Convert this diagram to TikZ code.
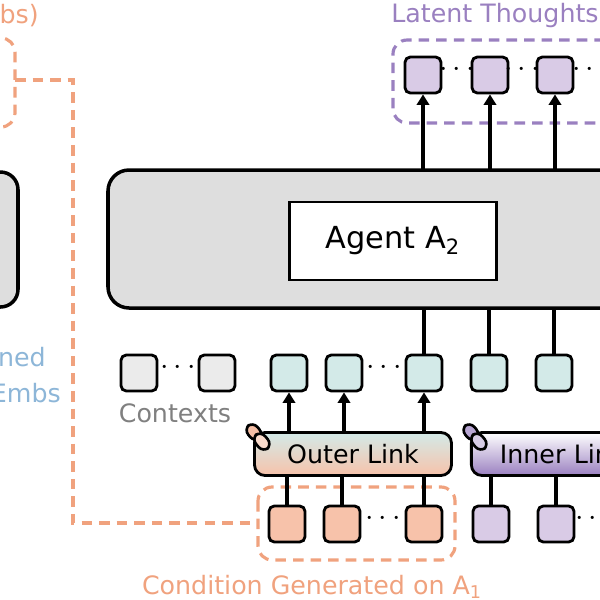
\documentclass[tikz,border=0pt]{standalone}
\usepackage{fontspec}
\setmainfont{DejaVu Sans}
\usetikzlibrary{arrows.meta}
\definecolor{ora}{HTML}{F0A27E}
\definecolor{pur}{HTML}{9A80C0}
\definecolor{tealf}{HTML}{D3EAE8}
\definecolor{orf}{HTML}{F7C2AA}
\definecolor{purf}{HTML}{D9CBE6}
\definecolor{greyf}{HTML}{DEDEDE}
\definecolor{bluet}{HTML}{8DB6D8}
\begin{document}
\begin{tikzpicture}[x=0.02cm,y=-0.02cm,
    sq/.style={draw=black, line width=1.6pt, rounded corners=3pt, minimum size=0.72cm, inner sep=0pt},
    arrow/.style={line width=1.8pt,-{Triangle[length=6pt,width=7pt]}},
    link/.style={line width=1.5pt, rounded corners=4pt},
    dashline/.style={dash pattern=on 6pt off 4pt, line width=1.8pt},
    dots/.style={font=\LARGE\bfseries, inner sep=0pt}]
    \useasboundingbox (0,0) rectangle (600,600);
    \clip (0,0) rectangle (600,600);

    % left part (cut off)
    \node[text=ora, font=\Large, anchor=east] (prev) at (45,16) {mbs)};
    \draw[ora, dashline, rounded corners=8pt] (-30,38) -- (15,38) -- (15,127) -- (-30,127);
    \draw[line width=2pt, fill=greyf, rounded corners=10pt] (-40,172) rectangle (18,307);
    \node[text=bluet, font=\Large, anchor=east] at (52,360) {gned};
    \node[text=bluet, font=\Large, anchor=east] at (67,393) {Embs};
    \coordinate (cond) at (15,80);

    % agent
    \draw[line width=2pt, fill=greyf, rounded corners=12pt] (108,170) rectangle (640,308);
    \node[draw=black, line width=1.6pt, fill=white, minimum width=4.14cm, minimum height=1.56cm, font=\LARGE] (agent) at (393,241) {Agent A\textsubscript{2}};

    % latent thoughts
    \node[text=pur, font=\Large] at (495,16) {Latent Thoughts};
    \draw[pur, dashline, rounded corners=8pt] (640,40) -- (393,40) -- (393,123) -- (640,123);
    \foreach \x/\n in {423/l1,490/l2,555/l3} {
        \node[sq, fill=purf] (\n) at (\x,75) {};
        \draw[arrow] (\x,170) -- (\n);
    }
    \node[dots] at (457,70) {$\cdots$};
    \node[dots] at (522,70) {$\cdots$};
    \node[dots] at (590,70) {$\cdots$};

    % contexts
    \node[sq, fill=greyf!60] (c1) at (139,373) {};
    \node[sq, fill=greyf!60] (c2) at (217,373) {};
    \node[dots] at (178,368) {$\cdots$};
    \node[text=gray, font=\Large] at (175,413) {Contexts};

    % hidden states
    \foreach \x/\n in {289/h1,344/h2,424/h3,489/h4,554/h5} \node[sq, fill=tealf] (\n) at (\x,373) {};
    \node[dots] at (384,368) {$\cdots$};
    \foreach \n/\x in {h3/424,h4/489,h5/554} \draw[line width=1.8pt] (\x,308) -- (\n);

    % links
    \node[draw=black, line width=1.6pt, rounded corners=6pt, top color=tealf, bottom color=orf, minimum width=3.94cm, minimum height=0.86cm, font=\Large] (outer) at (353,454) {Outer Link};
    \node[draw=black, line width=1.6pt, rounded corners=6pt, top color=white, bottom color=pur, minimum width=3.94cm, minimum height=0.86cm, font=\Large, anchor=west, text width=3.5cm] (inner) at (470,454) {\hspace{0.35cm}Inner Link};
    \foreach \x/\n in {289/h1,344/h2,424/h3} \draw[arrow] (\x,432) -- (\n);
    \foreach \x/\c in {258/ora,475/pur} {
        \draw[link, fill=\c!70, rotate around={-50:(\x,437)}] ({\x-15},431) rectangle ({\x+2},443);
        \draw[link, fill=\c!40, rotate around={-50:(\x,437)}] ({\x-3},431) rectangle ({\x+15},443);
    }

    % conditions
    \draw[ora, dashline, rounded corners=8pt] (258,487) rectangle (455,560);
    \foreach \x/\n in {287/o1,342/o2,424/o3} {
        \node[sq, fill=orf] (\n) at (\x,524) {};
        \draw[line width=1.8pt] (\n) -- (\x,475);
    }
    \node[dots] at (383,519) {$\cdots$};
    \foreach \x/\n in {491/p1,556/p2} {
        \node[sq, fill=purf] (\n) at (\x,524) {};
        \draw[line width=1.8pt] (\n) -- (\x,475);
    }
    \node[dots] at (593,519) {$\cdots$};
    \node[text=ora, font=\Large] at (312,587) {Condition Generated on A\textsubscript{1}};

    % condition connector
    \draw[ora, dashline] (cond) -- (73,80) -- (73,523) -- (258,523);
\end{tikzpicture}
\end{document}
